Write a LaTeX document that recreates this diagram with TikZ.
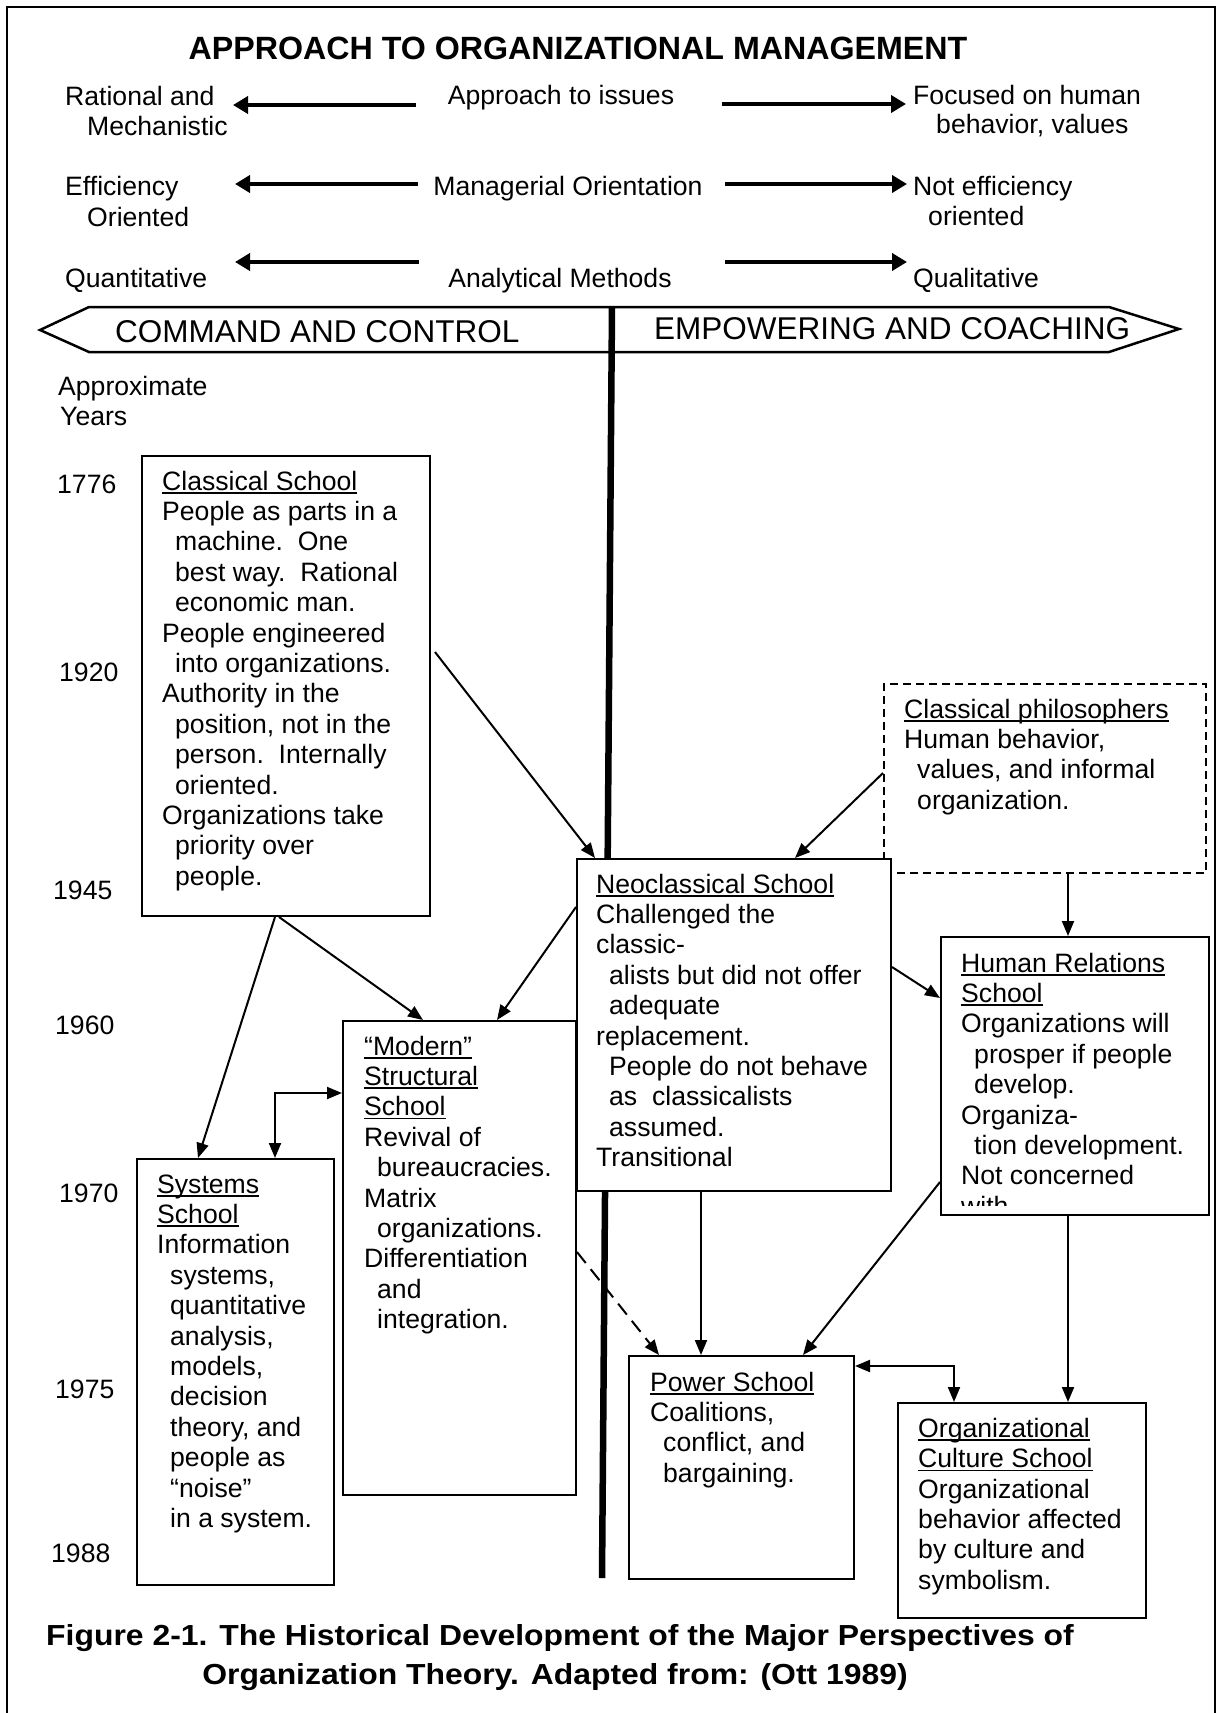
\documentclass[tikz,border=0pt]{standalone}
\usepackage{fontspec}
\setmainfont{Liberation Sans}[Ligatures={TeX,CommonOff}]
\newfontfamily\capfont{Liberation Sans}[FakeStretch=1.1,Ligatures={TeX,CommonOff}]
\usetikzlibrary{arrows.meta,calc}

\newcommand\bodyfont{\fontsize{26.6}{30.4}\selectfont}
\newcommand\ind{\hspace*{13pt}}
\newcommand\uln[1]{\setbox0=\hbox{#1}\rlap{\rule[-3.4pt]{\wd0}{1.5pt}}\box0}

\begin{document}
\begin{tikzpicture}[x=1pt,y=-1pt,
  schoolbox/.style={draw, line width=2pt, fill=white, inner sep=0pt, anchor=north west},
  dashbox/.style={schoolbox, dash pattern=on 8pt off 5pt},
  txt/.style={anchor=north west, inner sep=0pt, align=left, font=\bodyfont},
  lab/.style={anchor=base west, inner sep=0pt, font=\bodyfont},
  conn/.style={line width=2pt, -{Triangle[length=15pt,width=12pt]}},
  conntwo/.style={line width=2pt, {Triangle[length=15pt,width=12pt]}-{Triangle[length=15pt,width=12pt]}},
  dashconn/.style={conn, dash pattern=on 14pt off 8pt},
  bigarr/.style={line width=4pt, -{Triangle[length=15pt,width=17pt]}},
  banner/.style={anchor=base west, inner sep=0pt, font=\fontsize{31.5}{36}\selectfont},
  capt/.style={anchor=base, inner sep=0pt, font=\capfont\bfseries\fontsize{29}{34}\selectfont}]

\useasboundingbox (0,0) rectangle (1220,1713);

% outer frame, open at the bottom
\draw[line width=1.8pt] (7,1713) -- (7,7) -- (1215,7) -- (1215,1713);

% heading
\node[anchor=base, inner sep=0pt, font=\fontsize{32.2}{36}\selectfont\bfseries] (title) at (578,59)
  {APPROACH TO ORGANIZATIONAL MANAGEMENT};

% the three scales
\node[lab] (ratl) at (65,105) {Rational and};
\node[lab] (mech) at (87,135) {Mechanistic};
\node[lab,anchor=base] (iss) at (561,104) {Approach to issues};
\node[lab] (foc) at (913,104) {Focused on human};
\node[lab] (beh) at (936,133) {behavior, values};

\node[lab] (eff) at (65,195) {Efficiency};
\node[lab] (ori) at (87,226) {Oriented};
\node[lab,anchor=base] (mgr) at (568,195) {Managerial Orientation};
\node[lab] (noteff) at (913,195) {Not efficiency};
\node[lab] (orir) at (928,225) {oriented};

\node[lab] (quan) at (65,287) {Quantitative};
\node[lab,anchor=base] (anl) at (560,287) {Analytical Methods};
\node[lab] (qual) at (913,287) {Qualitative};

\coordinate (t1l) at (416,105); \coordinate (h1l) at (233,105);
\coordinate (t1r) at (722,104); \coordinate (h1r) at (906,104);
\coordinate (t2l) at (418,184); \coordinate (h2l) at (235,184);
\coordinate (t2r) at (725,184); \coordinate (h2r) at (907,184);
\coordinate (t3l) at (419,262); \coordinate (h3l) at (235,262);
\coordinate (t3r) at (725,262); \coordinate (h3r) at (907,262);
\draw[bigarr] (t1l) -- (h1l);
\draw[bigarr] (t1r) -- (h1r);
\draw[bigarr] (t2l) -- (h2l);
\draw[bigarr] (t2r) -- (h2r);
\draw[bigarr] (t3l) -- (h3l);
\draw[bigarr] (t3r) -- (h3r);

% double-pointed banner
\draw[line width=2.5pt, fill=white] (40,330) -- (89,307) -- (1109,307) -- (1179,329)
  -- (1109,352) -- (89,352) -- cycle;
\node[banner] (cc) at (115,342) {COMMAND AND CONTROL};
\node[banner] (ec) at (654,339) {EMPOWERING AND COACHING};

% dividing axis
\draw[line width=6.5pt] (612,307) -- (602,1578);

% time scale
\node[lab] (apx) at (58,395) {Approximate};
\node[lab] (yrs) at (60,425) {Years};
\node[lab] (y1776) at (57,493) {1776};
\node[lab] (y1920) at (59,681) {1920};
\node[lab] (y1945) at (53,899) {1945};
\node[lab] (y1960) at (55,1034) {1960};
\node[lab] (y1970) at (59,1202) {1970};
\node[lab] (y1975) at (55,1398) {1975};
\node[lab] (y1988) at (51,1562) {1988};

% schools
\node[schoolbox, minimum width=288pt, minimum height=460pt] (cls) at (141,455) {};
\node[dashbox, minimum width=322pt, minimum height=189pt] (phil) at (883,683) {};
\node[schoolbox, minimum width=314pt, minimum height=332pt] (neo) at (576,858) {};
\node[schoolbox, minimum width=268pt, minimum height=278pt] (hr) at (940,936) {};
\node[schoolbox, minimum width=233pt, minimum height=474pt] (mod) at (342,1020) {};
\node[schoolbox, minimum width=197pt, minimum height=426pt] (sys) at (136,1158) {};
\node[schoolbox, minimum width=225pt, minimum height=223pt] (pow) at (628,1355) {};
\node[schoolbox, minimum width=248pt, minimum height=215pt] (cul) at (897,1402) {};

\node[txt] (clsT) at ($(cls.north west)+(21,13.7)$) {\strut\uln{Classical School}\\
People as parts in a\\
\ind machine.~~One\\
\ind best way.~~Rational\\
\ind economic man.\\
People engineered\\
\ind into organizations.\\
Authority in the\\
\ind position, not in the\\
\ind person.~~Internally\\
\ind oriented.\\
Organizations take\\
\ind priority over\\
\ind people.};

\node[txt] (philT) at ($(phil.north west)+(21,13.7)$) {\strut\uln{Classical philosophers}\\
Human behavior,\\
\ind values, and informal\\
\ind organization.};

\node[txt] (neoT) at ($(neo.north west)+(20,13.7)$) {\strut\uln{Neoclassical School}\\
Challenged the\\
classic-\\
\ind alists but did not offer\\
\ind adequate\\
replacement.\\
\ind People do not behave\\
\ind as~~classicalists\\
\ind assumed.\\
Transitional};

\node[txt] (hrT) at ($(hr.north west)+(21,14.7)$) {\strut\uln{Human Relations}\\
\uln{School}\\
Organizations will\\
\ind prosper if people\\
\ind develop.\\
Organiza-\\
\ind tion development.\\
Not concerned};
\begin{scope}
  \clip (950,1190) rectangle (1100,1205);
  \node[lab] (hrW) at (961,1215) {with};
\end{scope}

\node[txt] (modT) at ($(mod.north west)+(22,13.7)$) {\strut\uln{“Modern”}\\
\uln{Structural}\\
\uln{School}\\
Revival of\\
\ind bureaucracies.\\
Matrix\\
\ind organizations.\\
Differentiation\\
\ind and\\
\ind integration.};

\node[txt] (sysT) at ($(sys.north west)+(21,13.7)$) {\strut\uln{Systems}\\
\uln{School}\\
Information\\
\ind systems,\\
\ind quantitative\\
\ind analysis,\\
\ind models,\\
\ind decision\\
\ind theory, and\\
\ind people as\\
\ind “noise”\\
\ind in a system.};

\node[txt] (powT) at ($(pow.north west)+(22,14.7)$) {\strut\uln{Power School}\\
Coalitions,\\
\ind conflict, and\\
\ind bargaining.};

\node[txt] (culT) at ($(cul.north west)+(21,13.7)$) {\strut\uln{Organizational}\\
\uln{Culture School}\\
Organizational\\
behavior affected\\
by culture and\\
symbolism.};

% lines of influence
\draw[conn] ($(cls.north east)+(4,197)$) -- ($(neo.north west)+(19,0)$);
\draw[conn] ($(phil.north west)+(0,90)$) -- ($(neo.north west)+(219,0)$);
\draw[conn] ($(cls.south west)+(134,0)$) -- ($(sys.north west)+(62,0)$);
\draw[conn] ($(cls.south west)+(138,0)$) -- ($(mod.north west)+(81,0)$);
\draw[conn] ($(neo.north west)+(0,49)$) -- ($(mod.north west)+(155,0)$);
\draw[conntwo] ($(sys.north west)+(139,0)$) |- ($(mod.north west)+(0,73)$);
\draw[dashconn] ($(mod.north east)+(0,232)$) -- ($(pow.north west)+(31,0)$);
\draw[conn] ($(neo.south west)+(125,0)$) -- ($(pow.north west)+(73,0)$);
\draw[conn] ($(neo.north east)+(0,109)$) -- ($(hr.north west)+(0,62)$);
\draw[conn] ($(phil.south west)+(185,0)$) -- ($(hr.north west)+(128,0)$);
\draw[conn] ($(hr.north west)+(0,246)$) -- ($(pow.north west)+(175,0)$);
\draw[conn] ($(hr.south west)+(128,0)$) -- ($(cul.north west)+(171,0)$);
\draw[conntwo] ($(pow.north east)+(0,11)$) -| ($(cul.north west)+(57,0)$);

% caption
\node[capt] (cap1) at (560,1645) {Figure 2-1. The Historical Development of the Major Perspectives of};
\node[capt] (cap2) at (555,1684) {Organization Theory. Adapted from: (Ott 1989)};

\end{tikzpicture}
\end{document}
